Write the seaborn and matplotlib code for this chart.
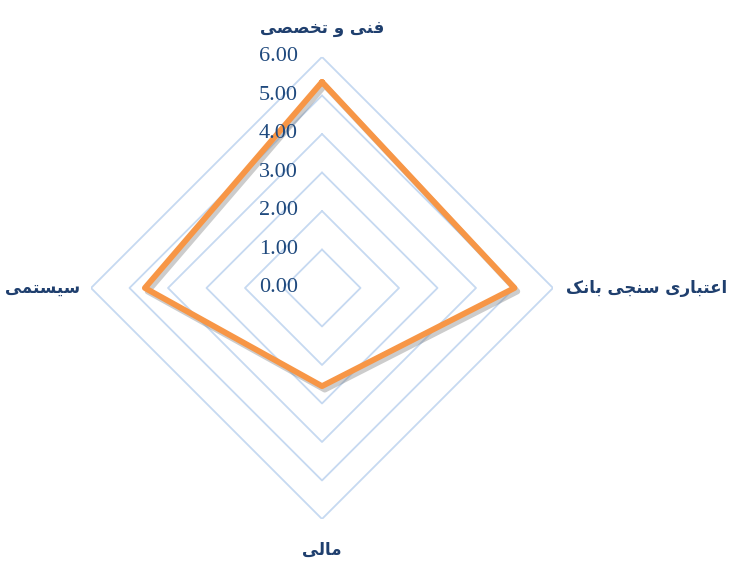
import numpy as np
import matplotlib
matplotlib.use("Agg")
import matplotlib.pyplot as plt
import matplotlib.patheffects as pe
import seaborn as sns

# data
categories = ["فنی و تخصصی", "اعتباری سنجی بانک", "مالی", "سیستمی"]
scores = [5.35, 5.0, 2.55, 4.6]
levels = [1, 2, 3, 4, 5, 6]
tick_labels = ["0.00", "1.00", "2.00", "3.00", "4.00", "5.00", "6.00"]

# minimal arabic shaping (matplotlib has no bidi / joining support)
FORMS = {
    "ا": ("\uFE8D", "\uFE8E", None, None),
    "ب": ("\uFE8F", "\uFE90", "\uFE91", "\uFE92"),
    "ت": ("\uFE95", "\uFE96", "\uFE97", "\uFE98"),
    "ج": ("\uFE9D", "\uFE9E", "\uFE9F", "\uFEA0"),
    "خ": ("\uFEA5", "\uFEA6", "\uFEA7", "\uFEA8"),
    "ر": ("\uFEAD", "\uFEAE", None, None),
    "س": ("\uFEB1", "\uFEB2", "\uFEB3", "\uFEB4"),
    "ص": ("\uFEB9", "\uFEBA", "\uFEBB", "\uFEBC"),
    "ع": ("\uFEC9", "\uFECA", "\uFECB", "\uFECC"),
    "ف": ("\uFED1", "\uFED2", "\uFED3", "\uFED4"),
    "ل": ("\uFEDD", "\uFEDE", "\uFEDF", "\uFEE0"),
    "م": ("\uFEE1", "\uFEE2", "\uFEE3", "\uFEE4"),
    "ن": ("\uFEE5", "\uFEE6", "\uFEE7", "\uFEE8"),
    "و": ("\uFEED", "\uFEEE", None, None),
    "ی": ("\uFBFC", "\uFBFD", "\uFBFE", "\uFBFF"),
    "ک": ("\uFB8E", "\uFB8F", "\uFB90", "\uFB91"),
}


def shape(text):
    out = []
    for i, c in enumerate(text):
        if c not in FORMS:
            out.append(c)
            continue
        prev = text[i - 1] if i > 0 else None
        nxt = text[i + 1] if i + 1 < len(text) else None
        iso, fin, ini, med = FORMS[c]
        join_prev = prev in FORMS and FORMS[prev][2] is not None
        join_next = nxt in FORMS and ini is not None
        if join_prev and join_next:
            out.append(med)
        elif join_prev:
            out.append(fin)
        elif join_next:
            out.append(ini)
        else:
            out.append(iso)
    return "".join(reversed(out))


sns.set_style("white")
plt.rcParams["font.family"] = ["DejaVu Sans"]

fig = plt.figure(figsize=(7.35, 5.68), dpi=100)
ax = fig.add_axes([0.1238, 0.0863, 0.6286, 0.8134], projection="polar")
ax.set_theta_zero_location("N")
ax.set_theta_direction(-1)
ax.set_ylim(0, 6)
ax.grid(False)
ax.set_xticks([])
ax.set_yticks([])
ax.spines["polar"].set_visible(False)

angles = np.linspace(0, 2 * np.pi, len(categories), endpoint=False)
closed = np.append(angles, 2 * np.pi)

# diamond grid
for lv in levels:
    ax.plot(closed, [lv] * len(closed), color="#c6d9f1", lw=1.3, zorder=1)

# data line with shadow
sns.lineplot(x=closed, y=scores + [scores[0]], sort=False, estimator=None, ax=ax,
             color="#f79646", lw=4.2, zorder=3,
             path_effects=[pe.SimpleLineShadow(offset=(2, -2.5), shadow_color="gray", alpha=0.4),
                           pe.Normal()])

# radial value labels
for i, t in enumerate(tick_labels):
    ax.annotate(t, xy=(0, i), xytext=(-24 * 0.72, 0), textcoords="offset points",
                ha="right", va="center", fontsize=16, color="#1f497d",
                family=["Liberation Serif"])

# category labels
lab_style = dict(fontsize=12, fontweight="bold", color="#1f3f6e", textcoords="offset points")
ax.annotate(shape(categories[0]), xy=(angles[0], 6), xytext=(0, 21), ha="center", va="center", **lab_style)
ax.annotate(shape(categories[1]), xy=(angles[1], 6), xytext=(9, 0), ha="left", va="center", **lab_style)
ax.annotate(shape(categories[2]), xy=(angles[2], 6), xytext=(0, -22), ha="center", va="center", **lab_style)
ax.annotate(shape(categories[3]), xy=(angles[3], 6), xytext=(-8, 0), ha="right", va="center", **lab_style)

fig.savefig("out.png", dpi=100)
